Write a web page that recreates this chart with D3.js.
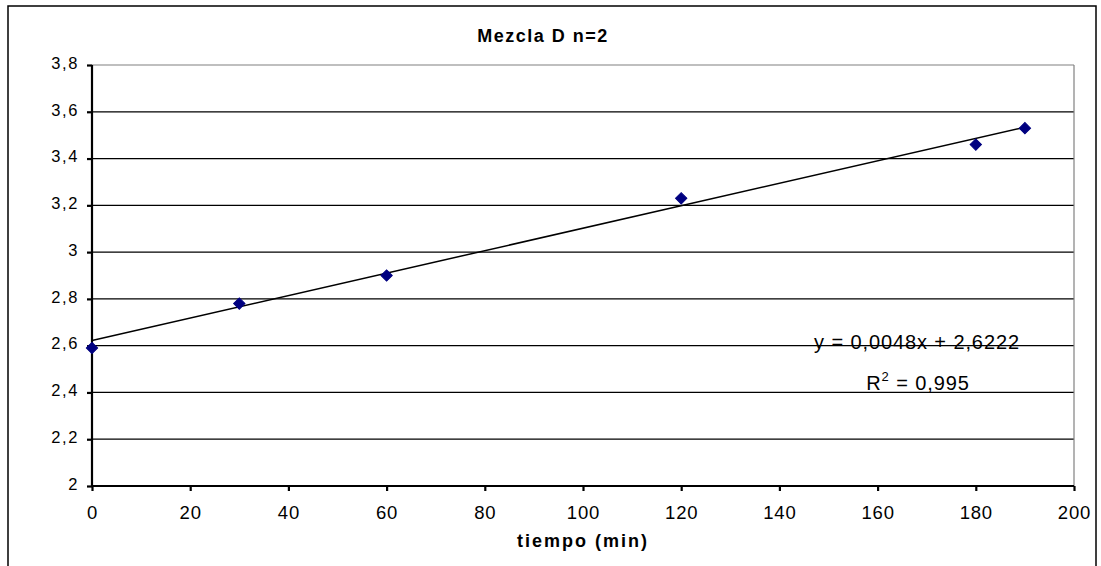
<!DOCTYPE html>
<html><head><meta charset="utf-8">
<script src="https://cdn.jsdelivr.net/npm/d3@7"></script>
<style>body{margin:0;background:#fff;} text{font-family:"Liberation Sans",Arial,sans-serif;}</style>
</head><body>
<svg id="c" width="1101" height="566"></svg>
<script>
const xValues = [0, 30, 60, 120, 180, 190];
const yValues = [2.59, 2.78, 2.90, 3.23, 3.46, 3.53];
const xTicks = [0, 20, 40, 60, 80, 100, 120, 140, 160, 180, 200];
const yTicks = [2, 2.2, 2.4, 2.6, 2.8, 3, 3.2, 3.4, 3.6, 3.8];
const trendSlope = 0.0048, trendIntercept = 2.6222;
const title = "Mezcla D n=2";
const xLabel = "tiempo (min)";
const eqText = "y = 0,0048x + 2,6222";
const r2Value = "0,995";

const svg = d3.select("#c");
const fmt = d => String(d).replace(".", ",");
const x = d3.scaleLinear().domain([0, 200]).range([92, 1074]);
const y = d3.scaleLinear().domain([2, 3.8]).range([486, 65]);

// outer chart border
svg.append("rect").attr("x", 8).attr("y", 6).attr("width", 1088).attr("height", 580)
  .attr("fill", "none").attr("stroke", "#000").attr("stroke-width", 1.5);

// grid lines
svg.append("g").selectAll("line").data(yTicks.filter(d => d > 2 && d < 3.8)).join("line")
  .attr("x1", x(0)).attr("x2", x(200)).attr("y1", d => y(d)).attr("y2", d => y(d))
  .attr("stroke", "#000").attr("stroke-width", 1.2);

// plot area border (gray top & right)
svg.append("line").attr("x1", x(0)).attr("x2", x(200)).attr("y1", y(3.8)).attr("y2", y(3.8))
  .attr("stroke", "#808080").attr("stroke-width", 1.2);
svg.append("line").attr("x1", x(200)).attr("x2", x(200)).attr("y1", y(3.8)).attr("y2", y(2))
  .attr("stroke", "#808080").attr("stroke-width", 1.2);

// axes
const yAxis = d3.axisLeft(y).tickValues(yTicks).tickFormat(fmt).tickSize(5).tickPadding(8);
const gy = svg.append("g").attr("transform", `translate(${x(0)},0)`).call(yAxis);
const xAxis = d3.axisBottom(x).tickValues(xTicks).tickSize(5).tickPadding(15);
const gx = svg.append("g").attr("transform", `translate(0,${y(2)})`).call(xAxis);
[gy, gx].forEach(g => {
  g.select(".domain").attr("stroke", "#000").attr("stroke-width", 2.2);
  g.selectAll(".tick line").attr("stroke", "#000").attr("stroke-width", 2.2);
  g.selectAll(".tick text").attr("fill", "#000")
    .style("font-family", "'Liberation Sans', Arial, sans-serif");
});
gy.selectAll(".tick text").style("font-size", "16.5px").style("letter-spacing", "1.6px").attr("dy", "0.2em");
gx.selectAll(".tick text").style("font-size", "18.5px").style("letter-spacing", "0.8px");
gy.select(".domain").attr("d", `M0,${y(3.8)}V${y(2)}`);
gx.select(".domain").attr("d", `M${x(0)},0H${x(200)}`);

// trendline
svg.append("line")
  .attr("x1", x(0)).attr("y1", y(trendIntercept))
  .attr("x2", x(190)).attr("y2", y(trendIntercept + trendSlope * 190))
  .attr("stroke", "#000").attr("stroke-width", 1.5);

// points
svg.append("g").selectAll("path").data(xValues.map((d, i) => [d, yValues[i]])).join("path")
  .attr("d", d3.symbol(d3.symbolSquare, 64))
  .attr("transform", d => `translate(${x(d[0])},${y(d[1])}) rotate(45)`)
  .attr("fill", "#000080").attr("stroke", "#000080").attr("stroke-width", 1);

// texts
svg.append("text").attr("x", 543).attr("y", 42).attr("text-anchor", "middle")
  .style("font-size", "18px").style("font-weight", "bold").style("letter-spacing", "1.5px").text(title);
svg.append("text").attr("x", 583).attr("y", 547).attr("text-anchor", "middle")
  .style("font-size", "18px").style("font-weight", "bold").style("letter-spacing", "2px").text(xLabel);
svg.append("text").attr("x", 917).attr("y", 349).attr("text-anchor", "middle")
  .style("font-size", "20px").style("letter-spacing", "0.9px").text(eqText);
const r2 = svg.append("text").attr("x", 918).attr("y", 390).attr("text-anchor", "middle")
  .style("font-size", "20px").style("letter-spacing", "0.9px");
r2.append("tspan").text("R");
r2.append("tspan").attr("dy", -9).style("font-size", "13px").text("2");
r2.append("tspan").attr("dy", 9).text(" = " + r2Value);
</script>
</body></html>
